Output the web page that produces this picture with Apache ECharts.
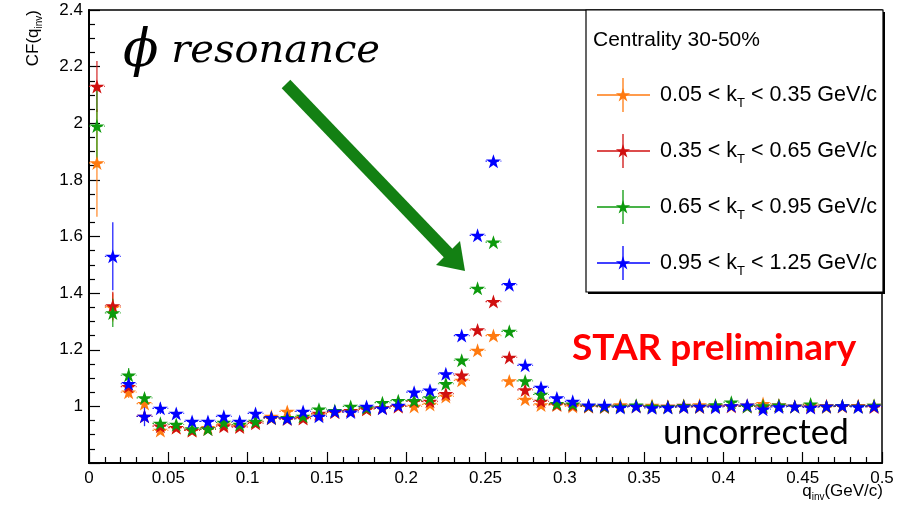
<!DOCTYPE html>
<html>
<head>
<meta charset="utf-8">
<script src="https://cdn.jsdelivr.net/npm/echarts@6/dist/echarts.min.js"></script>
<style>
html, body { margin: 0; padding: 0; background: #fff; }
#chart { width: 911px; height: 505px; }
</style>
</head>
<body>
<div id="chart"></div>
<script>
// bin centres, q_inv (GeV/c)
const qBins = [
    0.005, 0.015, 0.025, 0.035, 0.045, 0.055, 0.065, 0.075, 0.085, 0.095,
    0.105, 0.115, 0.125, 0.135, 0.145, 0.155, 0.165, 0.175, 0.185, 0.195,
    0.205, 0.215, 0.225, 0.235, 0.245, 0.255, 0.265, 0.275, 0.285, 0.295,
    0.305, 0.315, 0.325, 0.335, 0.345, 0.355, 0.365, 0.375, 0.385, 0.395,
    0.405, 0.415, 0.425, 0.435, 0.445, 0.455, 0.465, 0.475, 0.485, 0.495
];
const halfBin = 0.005;

// CF values per kT bin
const cfOrange = [
    1.86, 1.35, 1.05, 1.01, 0.915, 0.925, 0.915, 0.925, 0.935, 0.93,
    0.945, 0.965, 0.982, 0.96, 0.97, 0.98, 0.985, 0.99, 0.995, 1.0,
    1.0, 1.007, 1.035, 1.092, 1.198, 1.25, 1.09, 1.025, 1.005, 1.005,
    1.0, 1.0, 1.002, 1.005, 1.0, 1.003, 1.0, 0.998, 1.005, 1.002,
    1.0, 1.004, 1.01, 1.002, 1.0, 1.005, 0.998, 1.002, 1.0, 1.003
];
const cfRed = [
    2.13, 1.355, 1.07, 0.965, 0.93, 0.925, 0.915, 0.92, 0.93, 0.927,
    0.94, 0.958, 0.955, 0.957, 0.975, 0.98, 0.985, 0.99, 0.995, 1.0,
    1.018, 1.018, 1.045, 1.11, 1.27, 1.37, 1.173, 1.058, 1.018, 1.007,
    1.005, 1.0, 0.998, 1.0, 1.002, 0.998, 1.0, 1.003, 0.998, 1.0,
    1.002, 1.0, 0.998, 1.004, 1.0, 0.998, 1.002, 1.0, 1.002, 0.998
];
const cfGreen = [
    1.99, 1.33, 1.11, 1.03, 0.94, 0.936, 0.92, 0.92, 0.943, 0.936,
    0.947, 0.96, 0.96, 0.965, 0.99, 0.985, 1.0, 0.995, 1.013, 1.02,
    1.02, 1.03, 1.08, 1.163, 1.417, 1.58, 1.265, 1.09, 1.042, 1.01,
    1.008, 1.002, 1.0, 1.0, 1.004, 1.0, 0.998, 1.002, 1.0, 1.005,
    1.015, 1.0, 1.002, 1.004, 1.0, 1.008, 1.0, 1.002, 1.0, 1.003
];
const cfBlue = [
    null, 1.53, 1.08, 0.965, 0.993, 0.975, 0.947, 0.947, 0.965, 0.947,
    0.975, 0.96, 0.957, 0.982, 0.965, 0.982, 0.98, 1.0, 0.993, 1.003,
    1.05, 1.057, 1.115, 1.25, 1.604, 1.866, 1.43, 1.145, 1.067, 1.03,
    1.018, 1.004, 1.003, 0.996, 1.0, 0.995, 0.996, 0.998, 1.0, 0.997,
    1.002, 1.004, 0.99, 0.998, 1.0, 0.996, 1.0, 1.002, 0.998, 1.0
];

// stat. errors of the first bins, the rest use errTail
const errOrange = [0.19, 0.05, 0.02, 0.015, 0.012];
const errRed = [0.09, 0.05, 0.02, 0.015, 0.012];
const errGreen = [0.145, 0.05, 0.025, 0.015, 0.012];
const errBlue = [0, 0.12, 0.04, 0.035, 0.02];
const errTail = 0.008;

const seriesNames = [
    '0.05 < kT < 0.35 GeV/c',
    '0.35 < kT < 0.65 GeV/c',
    '0.65 < kT < 0.95 GeV/c',
    '0.95 < kT < 1.25 GeV/c'
];
const legendLow = ['0.05', '0.35', '0.65', '0.95'];
const legendHigh = ['0.35', '0.65', '0.95', '1.25'];
const colors = ['#ff7a10', '#d01010', '#0c9a0c', '#0000ff'];

const starPath = 'path://M0,-10 L2.245,-3.09 L9.51,-3.09 L3.633,1.18 L5.88,8.09 L0,3.82 L-5.88,8.09 L-3.633,1.18 L-9.51,-3.09 L-2.245,-3.09 Z';

// star outline for the legend marker (radius r around cx, cy)
function starPoints(cx, cy, r) {
    const pts = [];
    for (let i = 0; i < 10; i++) {
        const a = -Math.PI / 2 + i * Math.PI / 5;
        const rr = i % 2 === 0 ? r : r * 0.382;
        pts.push([cx + rr * Math.cos(a), cy + rr * Math.sin(a)]);
    }
    return pts;
}

const chart = echarts.init(document.getElementById('chart'));

function buildPoints(values, errs) {
    const pts = [];
    values.forEach((v, i) => {
        if (v === null) return;
        const e = i < errs.length ? errs[i] : errTail;
        pts.push([qBins[i], v, e]);
    });
    return pts;
}

function errorBars(name, color, pts) {
    return {
        type: 'custom',
        name: name,
        z: 2,
        clip: true,
        silent: true,
        renderItem: function (params, api) {
            const q = api.value(0), v = api.value(1), e = api.value(2);
            const top = api.coord([q, v + e]);
            const bot = api.coord([q, v - e]);
            const l = api.coord([q - halfBin, v]);
            const r = api.coord([q + halfBin, v]);
            return {
                type: 'group',
                children: [
                    { type: 'line', shape: { x1: top[0], y1: top[1], x2: bot[0], y2: bot[1] },
                      style: { stroke: color, lineWidth: 1.3, opacity: 0.85 } },
                    { type: 'line', shape: { x1: l[0], y1: l[1], x2: r[0], y2: r[1] },
                      style: { stroke: color, lineWidth: 1.2, lineDash: [1.5, 1.5], opacity: 0.85 } }
                ]
            };
        },
        data: pts
    };
}

function stars(name, color, pts) {
    return {
        type: 'scatter',
        name: name,
        z: 3,
        symbol: starPath,
        symbolSize: [15, 14],
        itemStyle: { color: color, opacity: 1 },
        data: pts.map(p => [p[0], p[1]])
    };
}

const allValues = [cfOrange, cfRed, cfGreen, cfBlue];
const allErrs = [errOrange, errRed, errGreen, errBlue];
const series = [];
allValues.forEach((vals, k) => {
    const pts = buildPoints(vals, allErrs[k]);
    series.push(errorBars(seriesNames[k], colors[k], pts));
    series.push(stars(seriesNames[k], colors[k], pts));
});

// legend box drawn by hand (ROOT style with marker crosses)
const legendRows = [95, 151, 207, 263];
const legendChildren = [
    { type: 'rect', shape: { x: 588, y: 12, width: 297, height: 282 }, style: { fill: '#000' } },
    { type: 'rect', shape: { x: 586, y: 10, width: 297, height: 282 }, style: { fill: '#fff', stroke: '#000', lineWidth: 1.2 } },
    { type: 'text', x: 593, y: 40, style: { text: 'Centrality 30-50%', font: '21px "Liberation Sans"', fill: '#000', verticalAlign: 'middle' } }
];
legendRows.forEach((y, k) => {
    legendChildren.push(
        { type: 'line', shape: { x1: 597, y1: y, x2: 650, y2: y }, style: { stroke: colors[k], lineWidth: 1.3 } },
        { type: 'line', shape: { x1: 623, y1: y - 17, x2: 623, y2: y + 17 }, style: { stroke: colors[k], lineWidth: 1.3 } },
        { type: 'polygon', shape: { points: starPoints(623, y + 0.5, 7.5) }, style: { fill: colors[k] } },
        { type: 'text', x: 660, y: y, style: {
            text: legendLow[k] + ' < k{sub|T} < ' + legendHigh[k] + ' GeV/c',
            font: '21.5px "Liberation Sans"', fill: '#000', verticalAlign: 'middle',
            rich: { sub: { fontSize: 13, fontFamily: 'Liberation Sans', verticalAlign: 'bottom', padding: [16, 0, 0, 0] } }
        } }
    );
});

const option = {
    animation: false,
    backgroundColor: '#fff',
    grid: {
        left: 89, right: 29, top: 10, bottom: 42,
        show: true, borderColor: '#000', borderWidth: 1.5, backgroundColor: 'transparent'
    },
    xAxis: {
        type: 'value', min: 0, max: 0.5, interval: 0.05,
        axisLine: { show: true, onZero: false, lineStyle: { color: '#000', width: 2 } },
        axisTick: { show: true, inside: true, length: 11, lineStyle: { color: '#000', width: 1.2 } },
        minorTick: { show: true, splitNumber: 5, length: 6, lineStyle: { color: '#000', width: 1.2 } },
        splitLine: { show: false },
        axisLabel: { color: '#000', fontSize: 17, fontFamily: 'Liberation Sans', margin: 7 }
    },
    yAxis: {
        type: 'value', min: 0.8, max: 2.4, interval: 0.2,
        axisLine: { show: true, onZero: false, lineStyle: { color: '#000', width: 2 } },
        axisTick: { show: true, inside: true, length: 11, lineStyle: { color: '#000', width: 1.2 } },
        minorTick: { show: true, splitNumber: 4, length: 6, lineStyle: { color: '#000', width: 1.2 } },
        splitLine: { show: false },
        axisLabel: { color: '#000', fontSize: 17, fontFamily: 'Liberation Sans', margin: 6, showMinLabel: false,
            formatter: v => String(Math.round(v * 10) / 10) }
    },
    series: series,
    graphic: [
        // axis titles
        { type: 'text', x: 33, y: 10, rotation: Math.PI / 2, style: {
            text: 'CF(q{sub|inv})', font: '17px "Liberation Sans"', fill: '#000', align: 'right', verticalAlign: 'middle',
            rich: { sub: { fontSize: 10, fontFamily: 'Liberation Sans', verticalAlign: 'bottom', padding: [12, 0, 0, 0] } }
        } },
        { type: 'text', x: 883, y: 491, style: {
            text: 'q{sub|inv}(GeV/c)', font: '17px "Liberation Sans"', fill: '#000', align: 'right', verticalAlign: 'middle',
            rich: { sub: { fontSize: 10, fontFamily: 'Liberation Sans', verticalAlign: 'bottom', padding: [12, 0, 0, 0] } }
        } },
        // annotation
        { type: 'text', x: 123, y: 52, style: {
            text: '{phi|ϕ} resonance', font: 'italic 40px "DejaVu Serif"', fill: '#000', verticalAlign: 'middle',
            rich: { phi: { fontSize: 52, fontStyle: 'italic', fontFamily: 'DejaVu Serif' } }
        } },
        { type: 'line', shape: { x1: 286, y1: 84, x2: 450, y2: 255 }, style: { stroke: '#138013', lineWidth: 12 } },
        { type: 'polygon', shape: { points: [[465, 271], [436, 265], [460, 241]] }, style: { fill: '#138013' } },
        { type: 'text', x: 572, y: 348, style: { text: 'STAR preliminary', font: 'bold 37px Lato', fill: '#ff0000', verticalAlign: 'middle' } },
        { type: 'text', x: 663, y: 433, style: { text: 'uncorrected', font: '35px Lato', fill: '#000', verticalAlign: 'middle' } },
        { type: 'group', children: legendChildren }
    ]
};

chart.setOption(option);
window.addEventListener('resize', () => chart.resize());
</script>
</body>
</html>
